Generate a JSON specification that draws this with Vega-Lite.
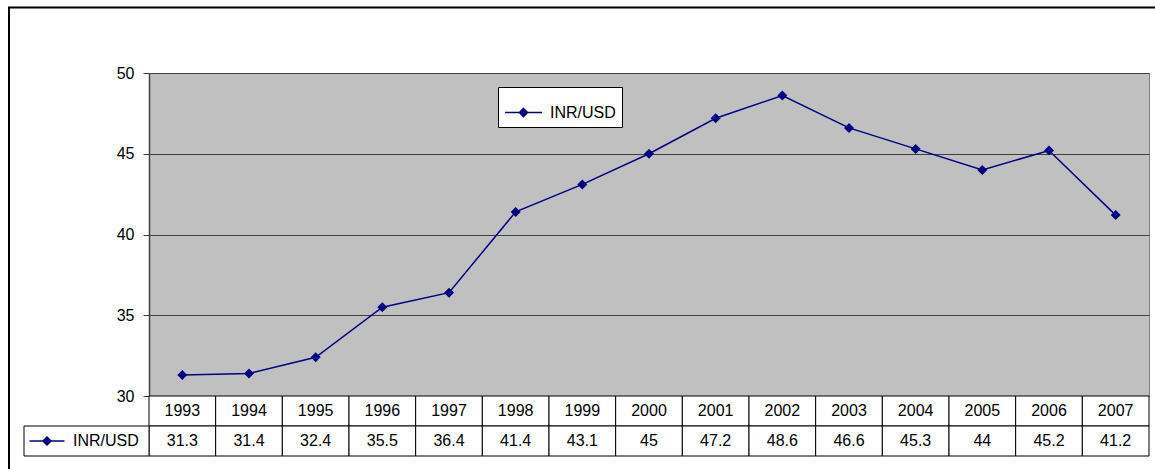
{
  "$schema": "https://vega.github.io/schema/vega-lite/v6.json",
  "autosize": {"type": "none"},
  "width": 1000,
  "height": 323,
  "padding": {"left": 149, "top": 73, "right": 6, "bottom": 73},
  "background": "white",
  "config": {
    "font": "Liberation Sans",
    "view": {"fill": "#c0c0c0", "stroke": "#808080", "strokeWidth": 1}
  },
  "data": {
    "values": [
      {"year": 1993, "value": 31.3},
      {"year": 1994, "value": 31.4},
      {"year": 1995, "value": 32.4},
      {"year": 1996, "value": 35.5},
      {"year": 1997, "value": 36.4},
      {"year": 1998, "value": 41.4},
      {"year": 1999, "value": 43.1},
      {"year": 2000, "value": 45},
      {"year": 2001, "value": 47.2},
      {"year": 2002, "value": 48.6},
      {"year": 2003, "value": 46.6},
      {"year": 2004, "value": 45.3},
      {"year": 2005, "value": 44},
      {"year": 2006, "value": 45.2},
      {"year": 2007, "value": 41.2}
    ]
  },
  "resolve": {"scale": {"x": "independent", "y": "independent", "color": "independent"}},
  "layer": [
    {
      "data": {"values": [{"frame": "outer"}]},
      "mark": {"type": "rect", "fill": "transparent", "stroke": "black", "strokeWidth": 2},
      "encoding": {
        "x": {"datum": 0, "type": "quantitative", "scale": {"domain": [0, 1], "range": [-140, 1030], "nice": false, "zero": false}, "axis": null},
        "x2": {"datum": 1},
        "y": {"datum": 0, "type": "quantitative", "scale": {"domain": [0, 1], "range": [-65.5, 430], "nice": false, "zero": false}, "axis": null},
        "y2": {"datum": 1}
      }
    },
    {
      "encoding": {
        "x": {"field": "year", "type": "ordinal", "scale": {"type": "band", "paddingInner": 0, "paddingOuter": 0}, "axis": null},
        "y": {
          "field": "value", "type": "quantitative",
          "scale": {"domain": [30, 50], "nice": false, "zero": false},
          "axis": {
            "title": null, "values": [30, 35, 40, 45, 50],
            "grid": true, "gridColor": "#404040", "gridWidth": 1,
            "domainColor": "#404040", "domainWidth": 1.5,
            "tickColor": "#404040", "tickSize": 6,
            "labelFontSize": 16, "labelColor": "black", "labelPadding": 9,
            "labelFont": "Liberation Sans"
          }
        }
      },
      "layer": [
        {"mark": {"type": "line", "color": "#000080", "strokeWidth": 1.5}},
        {
          "mark": {"type": "point", "shape": "diamond", "filled": true, "size": 100, "opacity": 1},
          "encoding": {
            "color": {
              "datum": "INR/USD",
              "scale": {"range": ["#000080"]},
              "legend": {
                "title": null, "orient": "none", "legendX": 349, "legendY": 14,
                "padding": 6, "strokeColor": "black", "fillColor": "white",
                "symbolType": "M-1,0L1,0M0,-0.22L0.22,0L0,0.22L-0.22,0Z",
                "symbolSize": 1369, "symbolStrokeColor": "#000080", "symbolFillColor": "#000080",
                "symbolStrokeWidth": 1.5, "symbolOpacity": 1,
                "labelFont": "Liberation Sans", "labelFontSize": 16, "labelColor": "black",
                "labelOffset": 7
              }
            }
          }
        }
      ]
    },
    {
      "encoding": {
        "x": {"field": "year", "type": "ordinal", "scale": {"type": "band", "paddingInner": 0, "paddingOuter": 0}, "axis": null}
      },
      "layer": [
        {
          "mark": {"type": "rect", "fill": "white", "stroke": "black", "strokeWidth": 1},
          "encoding": {
            "y": {"datum": "year", "type": "nominal", "scale": {"type": "band", "domain": ["year", "value"], "range": [323, 383], "paddingInner": 0, "paddingOuter": 0}, "axis": null}
          }
        },
        {
          "mark": {"type": "rect", "fill": "white", "stroke": "black", "strokeWidth": 1},
          "encoding": {"y": {"datum": "value", "type": "nominal"}}
        },
        {
          "mark": {"type": "text", "fontSize": 16, "color": "black", "font": "Liberation Sans", "baseline": "middle"},
          "encoding": {"y": {"datum": "year", "type": "nominal"}, "text": {"field": "year", "type": "nominal"}}
        },
        {
          "mark": {"type": "text", "fontSize": 16, "color": "black", "font": "Liberation Sans", "baseline": "middle"},
          "encoding": {"y": {"datum": "value", "type": "nominal"}, "text": {"field": "value", "type": "nominal"}}
        }
      ]
    },
    {
      "data": {"values": [{"series": "INR/USD"}]},
      "encoding": {
        "x": {"field": "series", "type": "nominal", "scale": {"type": "band", "range": [-125, 0], "paddingInner": 0, "paddingOuter": 0}, "axis": null},
        "y": {"datum": "value", "type": "nominal", "scale": {"type": "band", "domain": ["year", "value"], "range": [323, 383], "paddingInner": 0, "paddingOuter": 0}, "axis": null}
      },
      "layer": [
        {"mark": {"type": "rect", "fill": "white", "stroke": "black", "strokeWidth": 1}},
        {
          "mark": {"type": "text", "fontSize": 16, "color": "black", "font": "Liberation Sans", "baseline": "middle", "align": "left", "dx": -13.5},
          "encoding": {"text": {"field": "series", "type": "nominal"}}
        },
        {
          "mark": {"type": "point", "shape": "M-1,0L1,0M0,-0.23L0.23,0L0,0.23L-0.23,0Z", "size": 1225, "filled": true, "fill": "#000080", "stroke": "#000080", "strokeWidth": 1.5, "opacity": 1, "xOffset": -39.5}
        }
      ]
    }
  ]
}
